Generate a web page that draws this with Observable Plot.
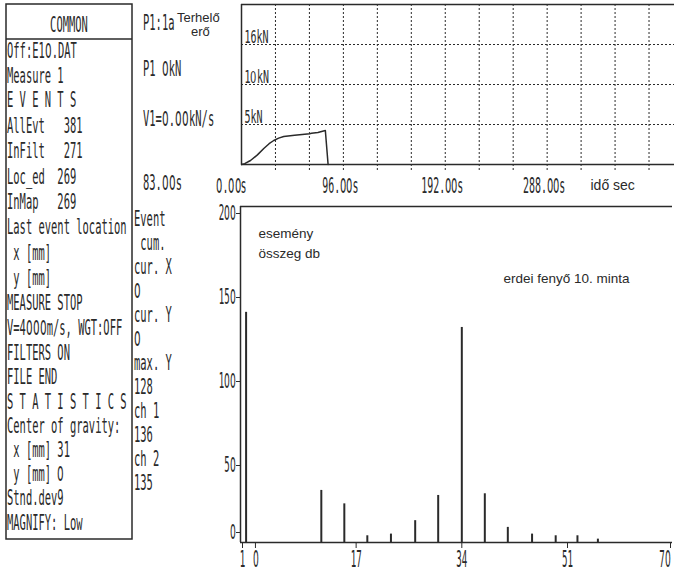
<!DOCTYPE html>
<html><head><meta charset="utf-8">
<script src="https://cdn.jsdelivr.net/npm/d3@7"></script>
<script src="https://cdn.jsdelivr.net/npm/@observablehq/plot@0.6"></script>
<style>
@font-face { font-family: "TermZero"; src: local("DejaVu Sans"), local("DejaVuSans"); unicode-range: U+0030; }
html,body{margin:0;padding:0;background:#fff;}
#root{position:relative;width:674px;height:575px;overflow:hidden;background:#fff;}
#root svg{position:absolute;left:0;top:0;}
</style></head><body><div id="root"></div>
<script>
// ---- top chart: load force vs time ----
const loadTime = [0, 3, 8.5, 15, 21, 26, 30.4, 35, 39.8, 50, 64.3, 66, 72, 79, 81.6];
const loadKN   = [0, 0.1, 0.5, 1.2, 2.0, 2.6, 3.0, 3.3, 3.5, 3.65, 3.85, 3.9, 4.0, 4.25, 0];
const timeTicks = [0, 96, 192, 288];
const timeGrid = [32, 64, 96, 128, 160, 192, 224, 256, 288, 320, 352, 384];
const forceTicks = [5, 10, 15];
const forceTickLabels = ["5kN", "10kN", "16kN"];
const timeAxisLabel = "idő sec";

// ---- bottom chart: cumulative events per position ----
const eventBins   = [-0.7, 11.4, 15.1, 18.8, 22.6, 26.5, 30.2, 34, 37.7, 41.4, 45.3, 49.1, 52.8, 56.5];
const eventCounts = [137, 31, 23, 4, 5, 13, 28, 128, 29, 9, 5, 4, 4, 2];
const binTicks = [-1.6, 0, 17, 34, 51, 70];
const binTickLabels = ["1", "0", "17", "34", "51", "70"];
const countTicks = [0, 50, 100, 150, 200];
const chartNotes = ["esemény", "összeg db", "erdei fenyő 10. minta"];

// ---- side panels ----
const commonTitle = "COMMON";
const commonLines = ["Off:E10.DAT", "Measure 1", "E V E N T S", "AllEvt   381", "InFilt   271",
  "Loc_ed  269", "InMap   269", "Last event location", " x [mm]", " y [mm]", "MEASURE STOP",
  "V=4000m/s, WGT:OFF", "FILTERS ON", "FILE END", "S T A T I S T I C S", "Center of gravity:",
  " x [mm] 31", " y [mm] 0", "Stnd.dev9", "MAGNIFY: Low"];
const commonY = [50, 75, 99, 125, 150, 176, 201, 226, 252, 277, 302, 327, 352, 376, 401, 425, 449, 473, 497, 522];
const channelLines = ["P1:1a", "P1 0kN", "V1=0.00kN/s", "83.00s"];
const channelY = [22, 68, 118, 182];
const channelNote = ["Terhelő", "erő"];
const cursorLines = ["Event", " cum.", "cur. X", "0", "cur. Y", "0", "max. Y", "128", "ch 1", "136", "ch 2", "135"];
const cursorY = [218, 242, 266, 290, 314, 338, 362, 386, 410, 434, 458, 482];

const INK = "#2a2a2a";
const TERM = "TermZero, 'DejaVu Sans Mono', monospace";
const SANS = "Liberation Sans";
const root = document.getElementById("root");

// compress terminal-style labels horizontally (uniform advance per character)
function squeeze(svgEl, adv) {
  svgEl.querySelectorAll("text").forEach(t => {
    const cs = getComputedStyle(t);
    if (!cs.fontFamily.includes("TermZero")) return;
    const fs = parseFloat(cs.fontSize);
    const sx = adv / (0.602 * fs);
    const bb = t.getBBox();
    const a = cs.textAnchor;
    const ox = a === "middle" ? bb.x + bb.width / 2 : a === "end" ? bb.x + bb.width : bb.x;
    const prev = t.getAttribute("transform") || "";
    t.setAttribute("transform", `${prev} translate(${ox},0) scale(${sx},1) translate(${-ox},0)`);
  });
}

function draw() {
  // bottom chart
  const eventData = eventBins.map((b, i) => ({bin: b, count: eventCounts[i]}));
  const binLabel = d => binTickLabels[binTicks.indexOf(d)];
  const xAxisOpts = {anchor: "bottom", tickSize: 6, tickPadding: 2, fontSize: 23, stroke: INK, label: null, tickFormat: binLabel};
  const yAxisOpts = {anchor: "left", tickSize: 4, tickPadding: 1, fontSize: 21, stroke: INK, label: null};
  const bottomChart = Plot.plot({
    width: 674, height: 575,
    marginLeft: 240, marginRight: 2, marginTop: 206, marginBottom: 33,
    style: {background: "transparent", fontFamily: TERM, fontSize: "21px", color: INK},
    x: {type: "linear", domain: [binTicks[0], 51, 70], range: [240, 567, 672]},
    y: {domain: [0, 200]},
    marks: [
      Plot.ruleY([200], {stroke: INK, strokeWidth: 1.5}),
      Plot.ruleY([0], {stroke: INK, strokeWidth: 1.5}),
      Plot.ruleX([binTicks[0]], {stroke: INK, strokeWidth: 1.5}),
      Plot.ruleX(eventData, {x: "bin", y1: 0, y2: "count", stroke: INK, strokeWidth: 2}),
      Plot.axisY(countTicks.slice(1), {...yAxisOpts, dy: 7}),
      Plot.axisY(countTicks.slice(0, 1), {...yAxisOpts, dy: -10}),
      Plot.axisX(binTicks.slice(0, 1), {...xAxisOpts, dx: 2}),
      Plot.axisX(binTicks.slice(1, 2), {...xAxisOpts, dx: 5}),
      Plot.axisX(binTicks.slice(2, 5), xAxisOpts),
      Plot.axisX(binTicks.slice(5), {...xAxisOpts, textAnchor: "end", dx: -2}),
      Plot.text([chartNotes[0]], {frameAnchor: "top-left", dx: 18, dy: 27, textAnchor: "start", lineAnchor: "middle", fontFamily: SANS, fontSize: 13.5, fill: INK}),
      Plot.text([chartNotes[1]], {frameAnchor: "top-left", dx: 18, dy: 47, textAnchor: "start", lineAnchor: "middle", fontFamily: SANS, fontSize: 13.5, fill: INK}),
      Plot.text([chartNotes[2]], {frameAnchor: "top-left", dx: 263, dy: 72, textAnchor: "start", lineAnchor: "middle", fontFamily: SANS, fontSize: 13.5, fill: INK})
    ]
  });
  root.appendChild(bottomChart);

  // top chart
  const loadData = loadTime.map((t, i) => ({t, f: loadKN[i]}));
  const timeFmt = d => d.toFixed(2) + "s";
  const topChart = Plot.plot({
    width: 674, height: 200,
    marginLeft: 241, marginRight: 0, marginTop: 4, marginBottom: 36,
    style: {background: "transparent", fontFamily: TERM, fontSize: "21px", color: INK},
    x: {domain: [0, 408]},
    y: {domain: [0, 20]},
    marks: [
      Plot.ruleX(timeGrid, {stroke: INK, strokeWidth: 1, strokeDasharray: "2,2", insetBottom: -6}),
      Plot.ruleY(forceTicks, {stroke: INK, strokeWidth: 1, strokeDasharray: "2,2"}),
      Plot.ruleY([20], {stroke: INK, strokeWidth: 1.5}),
      Plot.ruleY([0], {stroke: INK, strokeWidth: 1.5}),
      Plot.ruleX([0], {stroke: INK, strokeWidth: 1.5}),
      Plot.line(loadData, {x: "t", y: "f", stroke: INK, strokeWidth: 1.5}),
      Plot.axisY(forceTicks, {anchor: "left", tickSize: 0, tickPadding: -3, textAnchor: "start", dy: -7, fontSize: 17, label: null,
        tickFormat: d => forceTickLabels[forceTicks.indexOf(d)]}),
      Plot.axisX(timeTicks.slice(0, 1), {anchor: "bottom", tickSize: 0, tickPadding: 14, fontSize: 21, label: null, dx: -10, tickFormat: timeFmt}),
      Plot.axisX(timeTicks.slice(1), {anchor: "bottom", tickSize: 0, tickPadding: 14, fontSize: 21, label: null, dx: -3, tickFormat: timeFmt}),
      Plot.text([timeAxisLabel], {frameAnchor: "bottom-left", dx: 349, dy: 21, textAnchor: "start", lineAnchor: "middle", fontFamily: SANS, fontSize: 14, fill: INK})
    ]
  });
  root.appendChild(topChart);

  // side panels
  const panel = d3.select(root).append("svg").attr("width", 674).attr("height", 575)
    .style("font-family", TERM).style("font-size", "21px").attr("fill", INK);
  panel.append("rect").attr("x", 6).attr("y", 4).attr("width", 126).attr("height", 535)
    .attr("fill", "none").attr("stroke", INK).attr("stroke-width", 1.5);
  panel.append("line").attr("x1", 6).attr("x2", 132).attr("y1", 39).attr("y2", 39)
    .attr("stroke", INK).attr("stroke-width", 1.5);
  const SX = 6.3 / (0.602 * 21), CAP = 7.6;
  const term = (txt, x, cy, anchor) =>
    panel.append("text").attr("transform", `translate(${x},${cy + CAP}) scale(${SX},1)`)
      .attr("text-anchor", anchor || "start").style("white-space", "pre").text(txt);
  term(commonTitle, 69, 24, "middle");
  commonLines.forEach((s, i) => term(s, 7, commonY[i]));
  channelLines.forEach((s, i) => term(s, 143, channelY[i]));
  cursorLines.forEach((s, i) => term(s, 134, cursorY[i]));
  panel.append("text").attr("x", 177).attr("y", 22).style("font-family", SANS).style("font-size", "13px").text(channelNote[0]);
  panel.append("text").attr("x", 191).attr("y", 36).style("font-family", SANS).style("font-size", "13px").text(channelNote[1]);

  squeeze(bottomChart, 5.5);
  squeeze(topChart, 6.0);
}

if (document.fonts && document.fonts.load) {
  document.fonts.load("21px TermZero", "0").catch(() => {}).finally(draw);
} else {
  draw();
}
</script></body></html>
